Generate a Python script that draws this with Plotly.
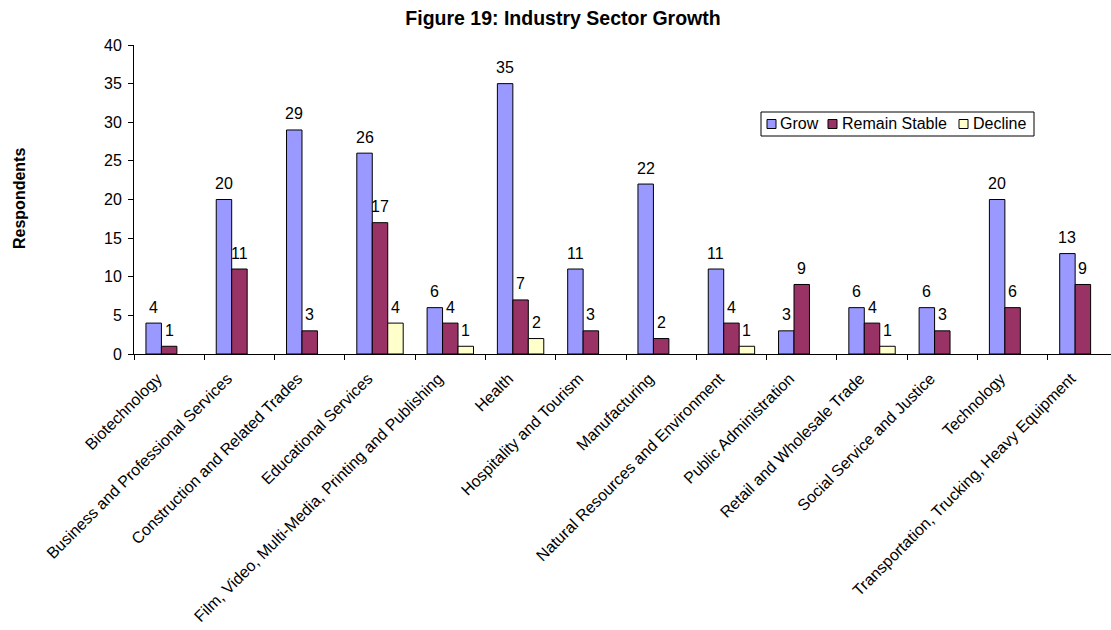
import plotly.graph_objects as go

categories = [
    "Biotechnology",
    "Business and Professional Services",
    "Construction and Related Trades",
    "Educational Services",
    "Film, Video, Multi-Media, Printing and Publishing",
    "Health",
    "Hospitality and Tourism",
    "Manufacturing",
    "Natural Resources and Environment",
    "Public Administration",
    "Retail and Wholesale Trade",
    "Social Service and Justice",
    "Technology",
    "Transportation, Trucking, Heavy Equipment",
]
grow = [4, 20, 29, 26, 6, 35, 11, 22, 11, 3, 6, 6, 20, 13]
remain_stable = [1, 11, 3, 17, 4, 7, 3, 2, 4, 9, 4, 3, 6, 9]
decline = [0, 0, 0, 4, 1, 2, 0, 0, 1, 0, 1, 0, 0, 0]

series_names = ["Grow", "Remain Stable", "Decline"]
series_values = [grow, remain_stable, decline]
series_colors = ["#9999FF", "#993366", "#FFFFCC"]

FONT = "Liberation Sans, Arial, sans-serif"
W, H = 1111, 630
ML, MR, MT, MB = 134, 0, 45, 276
PW, PH = W - ML - MR, H - MT - MB
X_RANGE = [-0.5, 13.4]
BARGAP = 0.34

# pixel helpers for the legend box drawn in paper coordinates
def px_x(px):
    return (px - ML) / PW

def px_y(py):
    return (H - MB - py) / PH

fig = go.Figure()
for name, vals, color in zip(series_names, series_values, series_colors):
    fig.add_trace(go.Bar(
        name=name,
        x=categories,
        y=[v if v != 0 else None for v in vals],
        marker=dict(color=color, line=dict(color="#000000", width=1)),
        showlegend=False,
    ))

# value labels above each non-zero bar
cat_px = PW / (X_RANGE[1] - X_RANGE[0])
bar_px = cat_px * (1 - BARGAP) / len(series_values)
annotations = []
for si, vals in enumerate(series_values):
    offset = (si - (len(series_values) - 1) / 2) * bar_px
    for cat, v in zip(categories, vals):
        if v == 0:
            continue
        annotations.append(dict(
            x=cat, y=v, xref="x", yref="y",
            text=str(v), showarrow=False,
            xanchor="center", yanchor="middle",
            xshift=offset, yshift=16,
            font=dict(family=FONT, size=16, color="#000000"),
        ))

# axis title
annotations.append(dict(
    text="<b>Respondents</b>",
    xref="paper", yref="paper",
    x=px_x(19), y=px_y(199), xanchor="center", yanchor="middle",
    textangle=-90, showarrow=False,
    font=dict(family=FONT, size=16, color="#000000"),
))

# legend: frame, swatches and entries
shapes = [dict(
    type="rect", xref="paper", yref="paper",
    x0=px_x(761), x1=px_x(1034), y0=px_y(136), y1=px_y(112),
    line=dict(color="#000000", width=1), fillcolor="white", layer="above",
)]
legend_sw = [767, 828, 959]
legend_tx = [778, 840, 971]
for name, color, sx, tx in zip(series_names, series_colors, legend_sw, legend_tx):
    shapes.append(dict(
        type="rect", xref="paper", yref="paper",
        x0=px_x(sx), x1=px_x(sx + 9), y0=px_y(128.5), y1=px_y(119.5),
        line=dict(color="#000000", width=1), fillcolor=color, layer="above",
    ))
    annotations.append(dict(
        text=name, xref="paper", yref="paper",
        x=px_x(tx), y=px_y(124), xanchor="left", yanchor="middle",
        showarrow=False, font=dict(family=FONT, size=16, color="#000000"),
    ))

fig.update_layout(
    width=W,
    height=H,
    paper_bgcolor="white",
    plot_bgcolor="white",
    barmode="group",
    bargap=BARGAP,
    bargroupgap=0,
    margin=dict(l=ML, r=MR, t=MT, b=MB, pad=0),
    font=dict(family=FONT, size=16, color="#000000"),
    title=dict(
        text="<b>Figure 19: Industry Sector Growth</b>",
        x=563 / W, xref="container", xanchor="center",
        y=1 - 18 / H, yref="container", yanchor="middle",
        font=dict(family=FONT, size=19.5, color="#000000"),
    ),
    showlegend=False,
    xaxis=dict(
        range=X_RANGE,
        showline=True, linecolor="#000000", linewidth=1,
        ticks="outside", tickson="boundaries", ticklen=5, tickcolor="#000000",
        tickangle=-45,
        ticklabelshift=-12, ticklabelstandoff=8,
        tickfont=dict(family=FONT, size=16),
        showgrid=False,
    ),
    yaxis=dict(
        range=[0, 40], dtick=5,
        showline=True, linecolor="#000000", linewidth=1,
        ticks="outside", ticklen=5, tickcolor="#000000",
        ticklabelstandoff=3,
        tickfont=dict(family=FONT, size=16),
        showgrid=False, zeroline=False,
    ),
    annotations=annotations,
    shapes=shapes,
)

fig.write_html("out.html")
